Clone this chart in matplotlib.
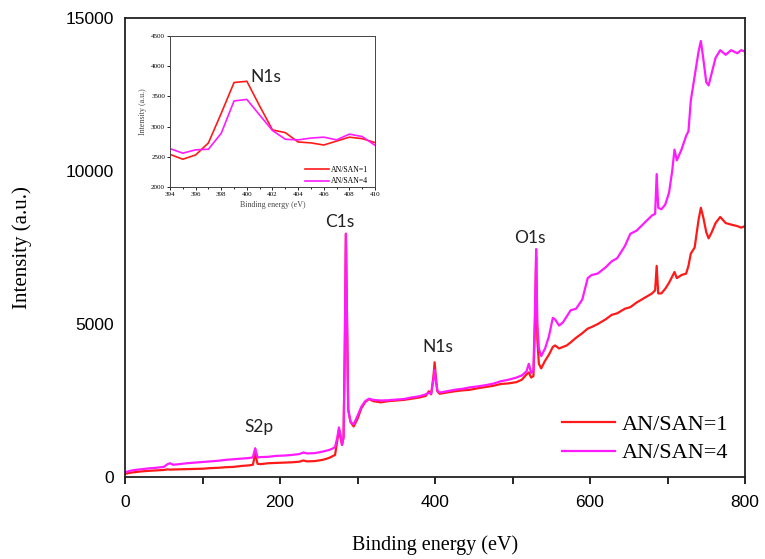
import matplotlib.pyplot as plt
from matplotlib.ticker import MultipleLocator

# survey spectra
energy = [0, 5, 10, 20, 30, 40, 50, 55, 58, 62, 70, 80, 90, 100, 110, 120, 130, 140,
          150, 160, 165, 168, 171, 175, 185, 195, 205, 215, 225, 230, 235, 245, 255,
          263, 268, 271, 274, 276, 278, 280, 282, 283.5, 285, 286.5, 288, 291, 295,
          300, 305, 310, 315, 320, 330, 340, 350, 360, 370, 380, 388, 392, 395, 398,
          399.5, 401, 403, 406, 415, 425, 435, 445, 455, 465, 475, 485, 495, 505,
          512, 518, 521, 524, 527, 529, 530.5, 532, 534, 537, 542, 547, 552, 555,
          560, 565, 570, 575, 582, 590, 597, 602, 610, 620, 628, 635, 645, 652, 660,
          670, 680, 684, 686, 688, 692, 697, 702, 706, 709, 712, 718, 724, 727, 730,
          735, 740, 743, 746, 750, 753, 757, 762, 768, 775, 782, 790, 795, 800]
san1 = [100, 130, 150, 180, 200, 215, 230, 250, 240, 245, 250, 255, 265, 270, 290, 300,
        320, 330, 360, 380, 400, 760, 430, 420, 450, 460, 470, 480, 500, 540, 510, 520,
        560, 620, 680, 720, 1200, 1550, 1300, 1050, 1300, 4000, 7950, 5000, 2200, 1800,
        1650, 1900, 2250, 2450, 2550, 2480, 2440, 2480, 2500, 2520, 2560, 2600, 2650,
        2800, 2700, 3300, 3750, 3300, 2800, 2720, 2760, 2800, 2830, 2850, 2900, 2940,
        2980, 3040, 3060, 3100, 3180, 3350, 3420, 3250, 3300, 5000, 7200, 4500, 3700,
        3550, 3800, 4000, 4250, 4300, 4200, 4250, 4300, 4400, 4550, 4700, 4850, 4900,
        5000, 5150, 5300, 5350, 5500, 5550, 5700, 5850, 6000, 6100, 6900, 6000, 6000,
        6150, 6350, 6550, 6700, 6500, 6600, 6650, 6900, 7300, 7500, 8400, 8800, 8500,
        8000, 7800, 8000, 8300, 8500, 8300, 8250, 8200, 8150, 8200]
san4 = [150, 190, 220, 250, 280, 300, 330, 420, 450, 400, 420, 450, 470, 490, 510, 530,
        560, 580, 600, 620, 640, 940, 640, 650, 660, 690, 700, 720, 750, 800, 770, 780,
        830, 880, 930, 980, 1300, 1620, 1400, 1050, 1300, 4000, 7950, 5000, 2200, 1800,
        1720, 2000, 2300, 2480, 2560, 2520, 2500, 2510, 2530, 2550, 2600, 2640, 2700,
        2750, 2720, 3200, 3500, 3150, 2820, 2760, 2800, 2850, 2880, 2930, 2960, 3000,
        3050, 3130, 3180, 3250, 3320, 3450, 3700, 3400, 3500, 5500, 7450, 5000, 4200,
        3950, 4200, 4600, 5200, 5150, 4950, 5050, 5250, 5450, 5500, 5800, 6500, 6600,
        6650, 6850, 7050, 7150, 7550, 7950, 8050, 8300, 8550, 8600, 9900, 8800, 8750,
        8900, 9300, 10000, 10700, 10350, 10700, 11150, 11300, 12300, 13100, 13900,
        14250, 13700, 12900, 12800, 13200, 13700, 13950, 13800, 13950, 13850, 13950, 13900]

# N1s high-resolution inset
n1s_energy = [394, 395, 396, 397, 398, 399, 400, 401, 402, 403, 404, 405, 406, 407, 408, 409, 410]
n1s_san1 = [2540, 2460, 2530, 2730, 3220, 3730, 3750, 3340, 2945, 2900, 2745, 2730, 2695, 2760, 2825, 2800, 2735]
n1s_san4 = [2635, 2560, 2615, 2625, 2890, 3425, 3450, 3190, 2935, 2790, 2780, 2810, 2825, 2780, 2875, 2835, 2690]

peak_labels = ['S2p', 'C1s', 'N1s', 'O1s']
peak_x = [173, 277, 404, 523]
peak_y = [1640, 8320, 4260, 7800]

red = '#ff1a1a'
mag = '#ff1aff'
serif = 'Liberation Serif'

fig = plt.figure(figsize=(7.65, 5.59), dpi=100)
ax = fig.add_axes([0.1634, 0.1467, 0.8105, 0.8210])
ax.plot(energy, san1, color=red, lw=1.6, label='AN/SAN=1')
ax.plot(energy, san4, color=mag, lw=1.6, label='AN/SAN=4')
ax.set_xlim(0, 800)
ax.set_ylim(0, 15000)
ax.set_yticks([0, 5000, 10000, 15000])
ax.xaxis.set_major_locator(MultipleLocator(200))
ax.xaxis.set_minor_locator(MultipleLocator(100))
ax.tick_params(axis='x', which='both', direction='out', length=5, width=1.2, top=False, pad=8)
ax.tick_params(axis='y', length=0, pad=8)
for lab in ax.get_xticklabels() + ax.get_yticklabels():
    lab.set_family('Liberation Sans')
    lab.set_fontsize(12.5)
for s in ax.spines.values():
    s.set_linewidth(1.3)
    s.set_color('#222222')
ax.set_xlabel('Binding energy (eV)', family=serif, fontsize=14.5, labelpad=18)
ax.set_ylabel('Intensity (a.u.)', family=serif, fontsize=15, labelpad=24)

for t, x, y in zip(peak_labels, peak_x, peak_y):
    ax.text(x, y, t, family='Lato', fontsize=12.5, ha='center', va='center', color='#222222')

ax.legend(loc='lower right', bbox_to_anchor=(1.005, -0.014), frameon=False,
          prop={'family': serif, 'size': 16}, handlelength=2.4, handletextpad=0.3,
          labelspacing=0.35)

# inset
ins = fig.add_axes([0.2222, 0.6655, 0.2680, 0.2701])
ins.plot(n1s_energy, n1s_san1, color=red, lw=1.2, label='AN/SAN=1')
ins.plot(n1s_energy, n1s_san4, color=mag, lw=1.2, label='AN/SAN=4')
ins.set_xlim(394, 410)
ins.set_ylim(2000, 4500)
ins.xaxis.set_major_locator(MultipleLocator(2))
ins.xaxis.set_minor_locator(MultipleLocator(1))
ins.yaxis.set_major_locator(MultipleLocator(500))
ins.tick_params(which='both', direction='out', length=2, width=0.6, pad=1.5, labelsize=5)
ins.tick_params(which='minor', length=1.2)
for lab in ins.get_xticklabels() + ins.get_yticklabels():
    lab.set_family(serif)
for s in ins.spines.values():
    s.set_linewidth(0.7)
    s.set_color('#444444')
ins.set_xlabel('Binding energy (eV)', family=serif, fontsize=5.7, labelpad=3, color='#444444')
ins.set_ylabel('Intensity (a.u.)', family=serif, fontsize=5.7, labelpad=3, color='#444444')
ins.text(401.5, 3820, 'N1s', family='Lato', fontsize=12.5, ha='center', va='center', color='#222222')
ins.legend(loc='lower right', bbox_to_anchor=(1.0, -0.035), frameon=False,
           prop={'family': serif, 'size': 5.6}, handlelength=3.0, handletextpad=0.3,
           labelspacing=0.4)

fig.savefig('out.png', dpi=100)
